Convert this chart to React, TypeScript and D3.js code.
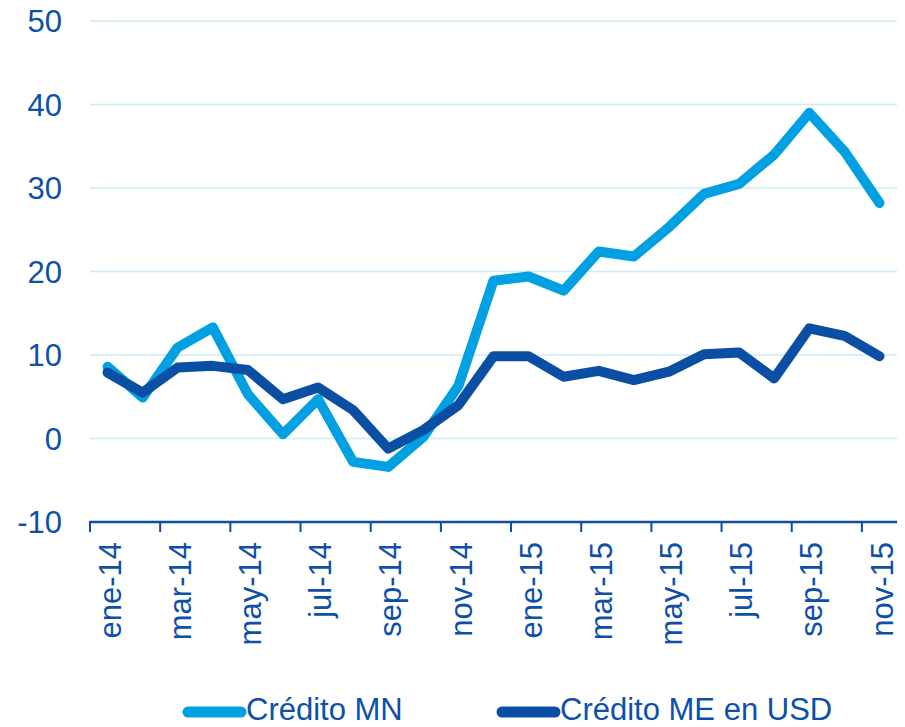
import React, { useEffect, useRef } from 'react';
import * as d3 from 'd3';

const months = [
  'ene-14', 'feb-14', 'mar-14', 'abr-14', 'may-14', 'jun-14', 'jul-14', 'ago-14',
  'sep-14', 'oct-14', 'nov-14', 'dic-14', 'ene-15', 'feb-15', 'mar-15', 'abr-15',
  'may-15', 'jun-15', 'jul-15', 'ago-15', 'sep-15', 'oct-15', 'nov-15',
];
const creditoMN = [8.6, 4.9, 10.9, 13.3, 5.3, 0.5, 4.7, -2.8, -3.4, 0.2, 6.3, 18.9, 19.4, 17.7, 22.4, 21.8, 25.3, 29.3, 30.5, 34.0, 39.0, 34.4, 28.2];
const creditoME = [7.9, 5.5, 8.5, 8.7, 8.2, 4.7, 6.1, 3.4, -1.2, 1.0, 4.0, 9.85, 9.85, 7.4, 8.1, 7.0, 8.0, 10.1, 10.3, 7.2, 13.2, 12.3, 9.85];
const yTicks = [-10, 0, 10, 20, 30, 40, 50];
const seriesNames = ['Crédito MN', 'Crédito ME en USD'];

const LIGHT = '#00a0e2';
const DARK = '#0a4fa3';
const TEXT = '#0d50aa';
const GRID = '#cdeaf8';
const FONT = '"Liberation Sans", Arial, sans-serif';

export default () => {
  const svgRef = useRef<SVGSVGElement>(null);

  useEffect(() => {
    if (!svgRef.current) return;
    const svg = d3.select(svgRef.current);
    svg.selectAll('*').remove();

    const x = d3.scaleBand<string>().domain(months).range([90, 897]).padding(0);
    const y = d3.scaleLinear().domain([-10, 50]).range([522, 21]);
    const bw = x.bandwidth();
    const cx = (m: string) => (x(m) || 0) + bw / 2;

    // gridlines (no line at -10, that's the axis)
    svg.append('g')
      .selectAll('line')
      .data(yTicks.filter(t => t > -10))
      .enter()
      .append('line')
      .attr('x1', 90)
      .attr('x2', 897)
      .attr('y1', d => y(d))
      .attr('y2', d => y(d))
      .attr('stroke', GRID)
      .attr('stroke-width', 1.5);

    // y labels
    svg.append('g')
      .selectAll('text')
      .data(yTicks)
      .enter()
      .append('text')
      .attr('x', 62)
      .attr('y', d => y(d))
      .attr('dy', '0.36em')
      .attr('text-anchor', 'end')
      .attr('font-family', FONT)
      .attr('font-size', 31)
      .attr('fill', TEXT)
      .text(d => String(d));

    // x axis
    svg.append('line')
      .attr('x1', 90)
      .attr('x2', 897)
      .attr('y1', 522)
      .attr('y2', 522)
      .attr('stroke', DARK)
      .attr('stroke-width', 2.5);

    const labelled = months.filter((_, i) => i % 2 === 0);
    svg.append('g')
      .selectAll('line')
      .data(labelled)
      .enter()
      .append('line')
      .attr('x1', d => x(d) || 0)
      .attr('x2', d => x(d) || 0)
      .attr('y1', 521)
      .attr('y2', 532)
      .attr('stroke', DARK)
      .attr('stroke-width', 2);

    svg.append('g')
      .selectAll('text')
      .data(labelled)
      .enter()
      .append('text')
      .attr('transform', d => `translate(${cx(d) + 2},542) rotate(-90)`)
      .attr('dy', '0.36em')
      .attr('text-anchor', 'end')
      .attr('font-family', FONT)
      .attr('font-size', 31)
      .attr('fill', TEXT)
      .text(d => d);

    // lines
    const line = d3.line<number>()
      .x((_, i) => cx(months[i]))
      .y(d => y(d));

    [creditoMN, creditoME].forEach((s, k) => {
      svg.append('path')
        .datum(s)
        .attr('d', line)
        .attr('fill', 'none')
        .attr('stroke', k === 0 ? LIGHT : DARK)
        .attr('stroke-width', 10)
        .attr('stroke-linejoin', 'round')
        .attr('stroke-linecap', 'round');
    });

    // legend
    const legendX = [183, 497];
    seriesNames.forEach((name, k) => {
      const g = svg.append('g').attr('transform', `translate(${legendX[k]},712)`);
      g.append('line')
        .attr('x1', 5)
        .attr('x2', 58)
        .attr('y1', 0)
        .attr('y2', 0)
        .attr('stroke', k === 0 ? LIGHT : DARK)
        .attr('stroke-width', 11)
        .attr('stroke-linecap', 'round');
      g.append('text')
        .attr('x', 63)
        .attr('y', 8)
        .attr('font-family', FONT)
        .attr('font-size', 31)
        .attr('fill', TEXT)
        .text(name);
    });
  }, []);

  return (
    <svg
      ref={svgRef}
      width={905}
      height={727}
      style={{ position: 'absolute', left: 0, top: 0, background: '#fff' }}
    />
  );
};
